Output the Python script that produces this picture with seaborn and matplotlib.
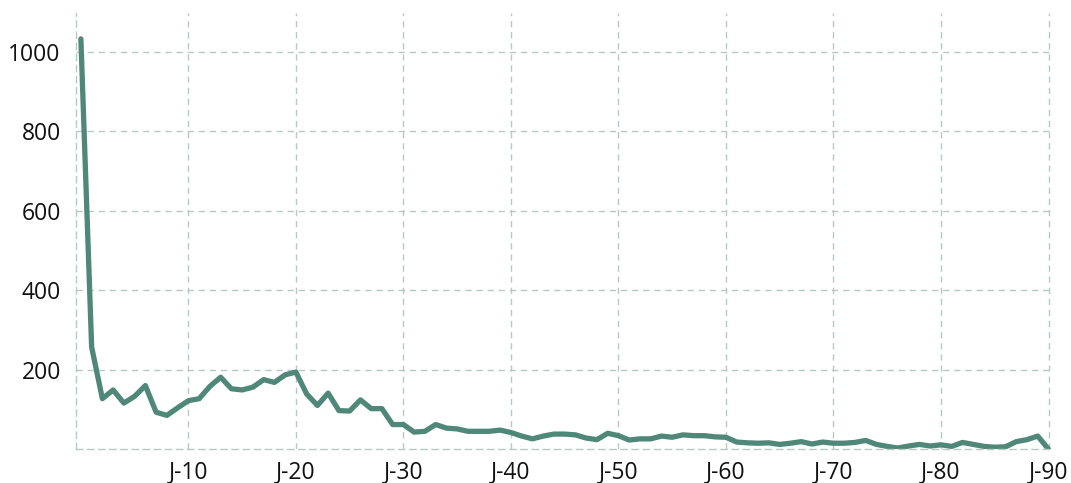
import matplotlib
matplotlib.use("Agg")
import matplotlib.pyplot as plt
import pandas as pd
import seaborn as sns

# days before the event (J-0 ... J-90) and the daily counts
days = list(range(0, 91))
counts = [
    1032, 257, 127, 149, 116, 133, 160, 93, 85, 104,
    122, 127, 158, 181, 152, 149, 156, 175, 168, 187,
    194, 139, 110, 141, 97, 96, 124, 102, 102, 62,
    62, 43, 45, 62, 53, 51, 45, 45, 45, 48,
    42, 33, 26, 33, 38, 38, 36, 28, 24, 40,
    34, 23, 26, 26, 33, 30, 36, 34, 34, 31,
    30, 18, 16, 15, 16, 12, 15, 19, 13, 18,
    15, 15, 17, 22, 12, 7, 3, 8, 12, 8,
    11, 7, 17, 12, 7, 5, 6, 19, 24, 33,
    0,
]
x_ticks = [10, 20, 30, 40, 50, 60, 70, 80, 90]
x_tick_labels = [f"J-{d}" for d in x_ticks]
y_ticks = [200, 400, 600, 800, 1000]

LINE_COLOR = "#4f8878"
GRID_COLOR = "#b7c9c3"
DASH = (0, (4.5, 3.5))

sns.set_theme(style="white")
plt.rcParams["font.family"] = ["Open Sans", "DejaVu Sans"]

df = pd.DataFrame({"day": days, "count": counts})

fig = plt.figure(figsize=(10.71, 4.83), dpi=100)
ax = fig.add_axes([0.071, 0.070, 0.910, 0.903])

sns.lineplot(data=df, x="day", y="count", ax=ax, color=LINE_COLOR, linewidth=3.8)

ax.set_xlim(-0.45, 90.2)
ax.set_ylim(0, 1097)
ax.set_xticks(x_ticks)
ax.set_xticklabels(x_tick_labels)
ax.set_yticks(y_ticks)
ax.set_xlabel("")
ax.set_ylabel("")

ax.grid(True, color=GRID_COLOR, linestyle=DASH, linewidth=1)
for side in ["left", "bottom"]:
    ax.spines[side].set_visible(True)
    ax.spines[side].set_color(GRID_COLOR)
    ax.spines[side].set_linestyle(DASH)
    ax.spines[side].set_linewidth(1)
for side in ["top", "right"]:
    ax.spines[side].set_visible(False)

ax.tick_params(axis="both", length=3, color=GRID_COLOR, labelsize=16.5, labelcolor="#111111")
ax.tick_params(axis="x", pad=5)
ax.tick_params(axis="y", pad=8)

fig.savefig("out.png", dpi=100)
plt.close(fig)
